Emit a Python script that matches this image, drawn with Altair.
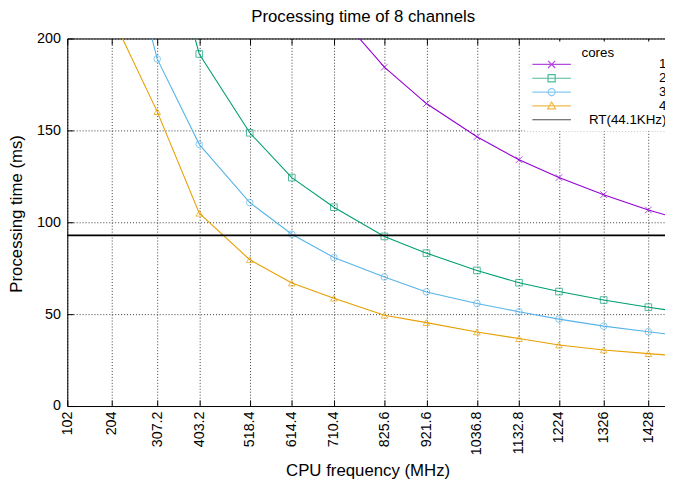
import altair as alt
import pandas as pd

# ---- data ----
freqs = [204, 307.2, 403.2, 518.4, 614.4, 710.4, 825.6, 921.6, 1036.8, 1132.8, 1224, 1326, 1428, 1479]
series_names = ["1", "2", "3", "4"]
cores1 = [None, None, None, None, None, 216.0, 184.4, 164.6, 146.5, 134.0, 124.3, 115.0, 106.7, 103.2]
cores2 = [None, 275.0, 191.6, 148.7, 124.3, 108.2, 92.3, 83.2, 73.8, 67.1, 62.3, 57.7, 53.8, 52.0]
cores3 = [285.0, 188.9, 142.4, 110.7, 93.5, 80.8, 70.2, 62.1, 55.8, 51.3, 47.3, 43.5, 40.4, 39.0]
cores4 = [212.0, 160.2, 104.9, 79.6, 66.9, 58.7, 49.4, 45.4, 40.3, 36.7, 33.2, 30.5, 28.5, 27.6]
rt_label = "RT(44.1KHz)"
rt_value = [92.88]

x_ticks = [102, 204, 307.2, 403.2, 518.4, 614.4, 710.4, 825.6, 921.6, 1036.8, 1132.8, 1224, 1326, 1428, 1479]
y_ticks = [0, 50, 100, 150, 200]

series_colors = ["#9400d3", "#009e73", "#56b4e9", "#e69f00"]
rt_color = "#000000"
marker_shapes = ["M-1,-1L1,1M-1,1L1,-1", "square", "circle", "triangle-up"]
legend_shapes = [
    "M-1,0H8.75M2.975,-0.9L4.775,0.9M2.975,0.9L4.775,-0.9",
    "M-1,0H8.75M2.975,-0.9H4.775V0.9H2.975Z",
    "M-1,0H8.75M4.775,0A0.9,0.9 0 1,1 2.975,0A0.9,0.9 0 1,1 4.775,0",
    "M-1,0H8.75M3.875,-1L4.875,0.75H2.875Z",
    "M-1,0H8.75",
]

rows = []
for name, vals in zip(series_names, [cores1, cores2, cores3, cores4]):
    for f, v in zip(freqs, vals):
        if v is not None:
            rows.append({"freq": f, "time": v, "cores": name})
df = pd.DataFrame(rows)
rt_df = pd.DataFrame({"time": rt_value, "cores": [rt_label]})

FONT = "Liberation Sans"
xscale = alt.Scale(domain=[102, 1466], nice=False, zero=False)
yscale = alt.Scale(domain=[0, 200], nice=False, zero=False)
color4 = alt.Scale(domain=series_names, range=series_colors)
shape4 = alt.Scale(domain=series_names, range=marker_shapes)
all_names = series_names + [rt_label]
color5 = alt.Scale(domain=all_names, range=series_colors + [rt_color])
shape5 = alt.Scale(domain=all_names, range=legend_shapes)

grid_kw = dict(grid=True, gridColor="#3a3a3a", gridDash=[1, 2], gridWidth=1, gridOpacity=1)

main_x_axis = alt.Axis(
    values=x_ticks, labelAngle=270, labelExpr="'' + datum.value",
    labelFontSize=14.5, labelPadding=5, labelColor="black", labelFont=FONT,
    ticks=False, tickSize=0, domain=True, domainColor="black", domainWidth=1,
    title="CPU frequency (MHz)", titleFontSize=17, titleFontWeight="normal", titleFont=FONT,
    titleColor="black", titleX=304, titleY=65, titleAlign="center", titleBaseline="middle",
    **grid_kw,
)
main_y_axis = alt.Axis(
    values=y_ticks, labelFontSize=14.5, labelPadding=7, labelColor="black", labelFont=FONT,
    ticks=False, tickSize=0, domain=True, domainColor="black", domainWidth=1,
    title="Processing time (ms)", titleFontSize=17, titleFontWeight="normal", titleFont=FONT,
    titleColor="black", titleX=-51, titleY=177, titleAngle=270, titleAlign="center",
    titleBaseline="middle",
    **grid_kw,
)

def tick_axis(orient, values, offset=-6, size=6, domain=False, ticks=True):
    return alt.Axis(orient=orient, values=values, offset=offset, tickSize=size, ticks=ticks,
                    tickColor="black", labels=False, domain=domain, domainColor="black",
                    grid=False, title=None)

lines = alt.Chart(df).mark_line(clip=True, strokeWidth=1.1).encode(
    x=alt.X("freq:Q", scale=xscale, axis=main_x_axis),
    y=alt.Y("time:Q", scale=yscale, axis=main_y_axis),
    color=alt.Color("cores:N", scale=color4, legend=None),
)

points = alt.Chart(df).mark_point(clip=True, filled=False, size=45, strokeWidth=1).encode(
    x=alt.X("freq:Q", scale=xscale, axis=tick_axis("bottom", x_ticks)),
    y=alt.Y("time:Q", scale=yscale, axis=tick_axis("left", y_ticks)),
    color=alt.Color("cores:N", scale=color4, legend=None),
    shape=alt.Shape("cores:N", scale=shape4, legend=None),
)

rt_rule = alt.Chart(rt_df).mark_rule(color=rt_color, strokeWidth=1.7).encode(
    y=alt.Y("time:Q", scale=yscale, axis=None),
)

border_top = alt.Chart(df).transform_filter("datum.time > 100000").mark_point().encode(
    x=alt.X("freq:Q", scale=xscale,
            axis=tick_axis("top", x_ticks, offset=0, size=0, domain=True, ticks=False)),
    y=alt.Y("time:Q", scale=yscale, axis=None),
)

legend_kw = dict(
    title="cores", orient="none", legendX=463, legendY=3, padding=5, fillColor="white",
    symbolSize=64, symbolStrokeWidth=1.2, labelAlign="right", labelOffset=125,
    labelFontSize=13.5, labelFont=FONT, labelColor="black", titleFontSize=13.5,
    titleFont=FONT, titleFontWeight="normal", titleColor="black", titleAnchor="middle",
    titlePadding=-2, rowPadding=-2.8,
)
legend_layer = alt.Chart(df).transform_filter("datum.time > 100000").mark_point(
    filled=False).encode(
    x=alt.X("freq:Q", scale=xscale, axis=tick_axis("top", x_ticks)),
    y=alt.Y("time:Q", scale=yscale, axis=None),
    color=alt.Color("cores:N", scale=color5, legend=alt.Legend(**legend_kw)),
    shape=alt.Shape("cores:N", scale=shape5, legend=alt.Legend(**legend_kw)),
)

chart = alt.layer(lines, points, rt_rule, border_top, legend_layer).resolve_scale(
    color="independent", shape="independent"
).resolve_axis(x="independent", y="independent").properties(
    width=605, height=372,
    title=alt.Title("Processing time of 8 channels", fontSize=17, fontWeight="normal",
                    font=FONT, color="black", anchor="middle", offset=5, dx=-3),
    autosize=alt.AutoSizeParams(type="none"),
    padding={"left": 60, "top": 28, "right": 0, "bottom": 72},
).configure_view(strokeWidth=0).configure(font=FONT)

chart.save("out.html", embed_options={"renderer": "svg", "actions": False})
